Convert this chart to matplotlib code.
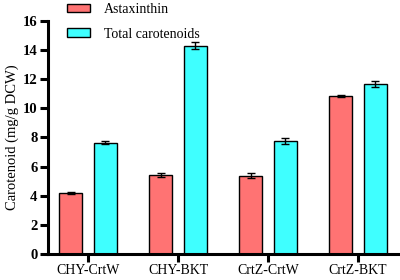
import numpy as np
import matplotlib
matplotlib.use("Agg")
import matplotlib.pyplot as plt
from matplotlib.patches import Patch

plt.rcParams["font.family"] = ["Liberation Serif", "DejaVu Serif"]

strains = ["CHY-CrtW", "CHY-BKT", "CrtZ-CrtW", "CrtZ-BKT"]
astax = [4.18, 5.43, 5.38, 10.87]
astax_err = [0.05, 0.12, 0.18, 0.08]
total = [7.65, 14.3, 7.75, 11.65]
total_err = [0.08, 0.25, 0.2, 0.2]
series_names = ["Astaxinthin", "Total carotenoids"]

red = "#FF7373"
cyan = "#3FFFFF"

fig = plt.figure(figsize=(4, 2.8), dpi=100)
ax = fig.add_axes([0.12, 0.093, 0.88, 0.832])

x = np.arange(len(strains))
w = 0.255
off = 0.19
ax.bar(x - off, astax, w, color=red, edgecolor="black", linewidth=1.0,
       yerr=astax_err, error_kw=dict(ecolor="black", elinewidth=1.0, capsize=3, capthick=1.0))
ax.bar(x + off, total, w, color=cyan, edgecolor="black", linewidth=1.0,
       yerr=total_err, error_kw=dict(ecolor="black", elinewidth=1.0, capsize=3, capthick=1.0))

ax.set_xlim(-0.444, 3.467)
ax.set_ylim(0, 16)
ax.set_yticks(np.arange(0, 17, 2))
ax.set_xticks(x)
ax.set_xticklabels(strains, fontsize=10)
for lbl in ax.get_yticklabels():
    lbl.set_fontweight("bold")
    lbl.set_fontsize(10.5)
ax.set_ylabel("Carotenoid (mg/g DCW)", fontsize=10.5, labelpad=3)

for s in ["top", "right"]:
    ax.spines[s].set_visible(False)
for s in ["left", "bottom"]:
    ax.spines[s].set_linewidth(2.2)
ax.tick_params(axis="both", width=2.2, length=5.5, direction="out")
ax.tick_params(axis="x", pad=1.5)
ax.tick_params(axis="y", pad=2)

handles = [Patch(facecolor=red, edgecolor="black", linewidth=1.0),
           Patch(facecolor=cyan, edgecolor="black", linewidth=1.0)]
fig.legend(handles, series_names, loc="upper left", bbox_to_anchor=(0.135, 1.035),
           frameon=False, fontsize=10, handlelength=1.7, handleheight=0.55,
           labelspacing=0.85, handletextpad=1.0)

fig.savefig("out.png", dpi=100)
